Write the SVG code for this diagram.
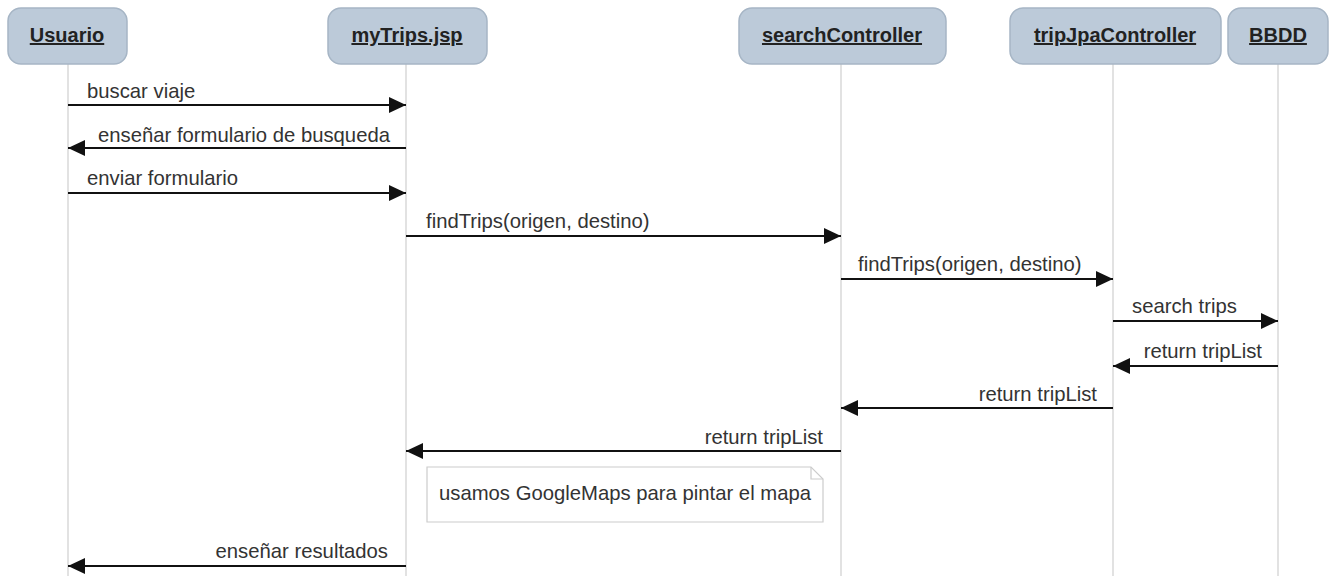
<svg xmlns="http://www.w3.org/2000/svg" width="1334" height="576" viewBox="0 0 1334 576">
<style>
.hdr{fill:#bccad9;stroke:#a6b5c5;stroke-width:1.5}
.ht{font-family:"Liberation Sans",Arial,sans-serif;font-size:20px;font-weight:bold;fill:#222;text-anchor:middle;text-decoration:underline}
.life{stroke:#cfcfcf;stroke-width:1.2}
.msg{stroke:#111;stroke-width:2;fill:none;marker-end:url(#ah)}
.lbl{font-family:"Liberation Sans",Arial,sans-serif;font-size:20.3px;fill:#333}
.end{text-anchor:end}
.note{fill:#fff;stroke:#cccccc;stroke-width:1.2}
</style>
<defs>
<marker id="ah" markerWidth="18" markerHeight="18" refX="17" refY="8" orient="auto" markerUnits="userSpaceOnUse">
<path d="M0,0 L17,8 L0,16 z" fill="#111"/>
</marker>
</defs>
<rect width="1334" height="576" fill="#fff"/>
<g id="lifelines">
<line class="life" x1="68" y1="64" x2="68" y2="576"/>
<line class="life" x1="406" y1="64" x2="406" y2="576"/>
<line class="life" x1="841" y1="64" x2="841" y2="576"/>
<line class="life" x1="1113" y1="64" x2="1113" y2="576"/>
<line class="life" x1="1278" y1="64" x2="1278" y2="576"/>
</g>
<g id="usuario"><rect class="hdr" x="8" y="8" width="119" height="56" rx="13"/><text class="ht" x="67" y="42">Usuario</text></g>
<g id="mytrips"><rect class="hdr" x="328" y="8" width="159" height="56" rx="13"/><text class="ht" x="407" y="42">myTrips.jsp</text></g>
<g id="searchController"><rect class="hdr" x="739" y="8" width="207" height="56" rx="13"/><text class="ht" x="842" y="42">searchController</text></g>
<g id="tripJpaController"><rect class="hdr" x="1010" y="8" width="211" height="56" rx="13"/><text class="ht" x="1115" y="42">tripJpaController</text></g>
<g id="bbdd"><rect class="hdr" x="1228" y="8" width="100" height="56" rx="13"/><text class="ht" x="1278" y="42">BBDD</text></g>
<g id="connectors">
<line class="msg" x1="68" y1="105" x2="406" y2="105"/>
<text class="lbl" x="87" y="98">buscar viaje</text>
<line class="msg" x1="406" y1="148" x2="68" y2="148"/>
<text class="lbl end" x="390" y="142">enseñar formulario de busqueda</text>
<line class="msg" x1="68" y1="193" x2="406" y2="193"/>
<text class="lbl" x="87" y="185">enviar formulario</text>
<line class="msg" x1="406" y1="236" x2="841" y2="236"/>
<text class="lbl" x="426" y="228">findTrips(origen, destino)</text>
<line class="msg" x1="841" y1="279" x2="1113" y2="279"/>
<text class="lbl" x="858" y="271">findTrips(origen, destino)</text>
<line class="msg" x1="1113" y1="321" x2="1278" y2="321"/>
<text class="lbl" x="1132" y="313">search trips</text>
<line class="msg" x1="1278" y1="366" x2="1113" y2="366"/>
<text class="lbl end" x="1262" y="358">return tripList</text>
<line class="msg" x1="1113" y1="408" x2="841" y2="408"/>
<text class="lbl end" x="1097" y="401">return tripList</text>
<line class="msg" x1="841" y1="451" x2="406" y2="451"/>
<text class="lbl end" x="823" y="444">return tripList</text>
<line class="msg" x1="406" y1="566" x2="68" y2="566"/>
<text class="lbl end" x="388" y="558">enseñar resultados</text>
</g>
<g id="note">
<path class="note" d="M427,467 H811 L823,479 V522 H427 Z"/>
<path d="M811,467 V479 H823" fill="none" stroke="#cccccc" stroke-width="1.2"/>
<text class="lbl" x="439" y="500">usamos GoogleMaps para pintar el mapa</text>
</g>
</svg>
